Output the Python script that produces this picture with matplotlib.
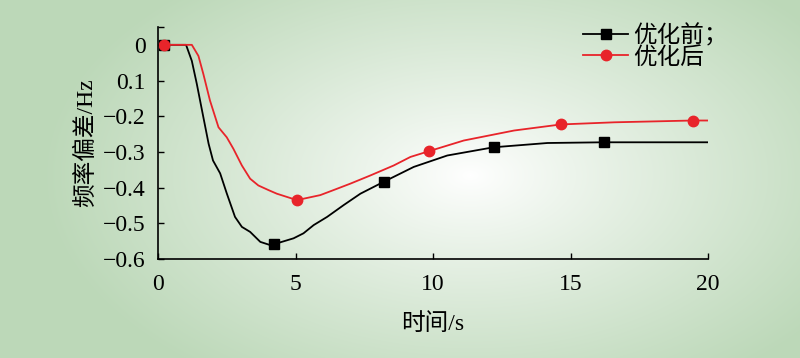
import numpy as np
import matplotlib
matplotlib.use('Agg')
import matplotlib.pyplot as plt

# data
t_before = [0, 0.2, 1.02, 1.23, 1.41, 1.65, 1.84, 2.0, 2.26, 2.5, 2.8, 3.05, 3.35, 3.72, 4.08, 4.2,
            4.93, 5.29, 5.66, 6.15, 6.75, 7.36, 8.2, 9.3, 10.52, 12.2, 14.16, 16.2, 20]
v_before = [0, 0, 0, -0.045, -0.109, -0.203, -0.277, -0.324, -0.36, -0.416, -0.482, -0.51, -0.524,
            -0.552, -0.561, -0.559, -0.542, -0.528, -0.505, -0.482, -0.449, -0.417, -0.384, -0.342,
            -0.31, -0.287, -0.275, -0.273, -0.273]
t_after = [0, 0.2, 1.23, 1.47, 1.65, 1.89, 2.2, 2.5, 2.74, 3.05, 3.35, 3.65, 4.02, 4.32, 5.05,
           5.9, 6.38, 6.99, 7.72, 8.57, 9.18, 9.85, 11.12, 12.95, 14.65, 16.6, 19.44, 20]
v_after = [0, 0, 0, -0.031, -0.082, -0.156, -0.231, -0.259, -0.291, -0.338, -0.375, -0.394, -0.407,
           -0.417, -0.435, -0.421, -0.407, -0.389, -0.366, -0.338, -0.314, -0.298, -0.268, -0.24,
           -0.223, -0.217, -0.212, -0.212]
mark_before = [1, 15, 22, 25, 27]
mark_after = [1, 14, 21, 24, 26]

yticks = [0.05, 0, -0.1, -0.2, -0.3, -0.4, -0.5, -0.6]
ytick_labels = ['', '0', '0.1', '\u22120.2', '\u22120.3', '\u22120.4', '\u22120.5', '\u22120.6']
xticks = [0, 5, 10, 15, 20]

fonts = ['Liberation Serif', 'Noto Sans CJK SC']
plt.rcParams['font.family'] = fonts

fig = plt.figure(figsize=(8, 3.58), dpi=100)

# radial gradient background
W, H = 800, 358
xx, yy = np.meshgrid(np.arange(W), np.arange(H))
d = np.sqrt(((xx - 470) / 430.0) ** 2 + ((yy - 175) / 250.0) ** 2)
d = np.clip(d, 0, 1) ** 0.9
edge = np.array([188, 216, 184]) / 255.0
center = np.array([1.0, 1.0, 1.0])
img = center[None, None, :] * (1 - d[..., None]) + edge[None, None, :] * d[..., None]
bg = fig.add_axes([0, 0, 1, 1])
bg.imshow(img, aspect='auto', extent=[0, 1, 0, 1], origin='upper')
bg.axis('off')

ax = fig.add_axes([0.1975, 0.2765, 0.6875, 0.6481])
ax.patch.set_alpha(0)
ax.plot(t_before, v_before, color='black', lw=1.3, marker='s', ms=6.5,
        markevery=mark_before, label='优化前；')
ax.plot(t_after, v_after, color='#e8242a', lw=1.3, marker='o', ms=7.5,
        markevery=mark_after, label='优化后')

ax.set_xlim(0, 20)
ax.set_ylim(-0.6, 0.05)
ax.set_xticks(xticks)
ax.set_yticks(yticks)
ax.set_yticklabels(ytick_labels)
ax.tick_params(direction='in', length=4, width=1, labelsize=17)
ax.tick_params(axis='y', pad=9)
ax.tick_params(axis='x', pad=11)
for s in ['top', 'right']:
    ax.spines[s].set_visible(False)
for s in ['left', 'bottom']:
    ax.spines[s].set_linewidth(1.2)

ax.set_xlabel('时间/s', fontsize=17, labelpad=13)
ax.set_ylabel('频率偏差/Hz', fontsize=17, labelpad=4)

leg = ax.legend(loc='upper left', bbox_to_anchor=(0.729, 0.933), bbox_transform=fig.transFigure,
                frameon=False, fontsize=17, handlelength=1.9, handletextpad=0.2,
                labelspacing=-0.02, borderaxespad=0, borderpad=0)

fig.savefig('out.png', dpi=100)
